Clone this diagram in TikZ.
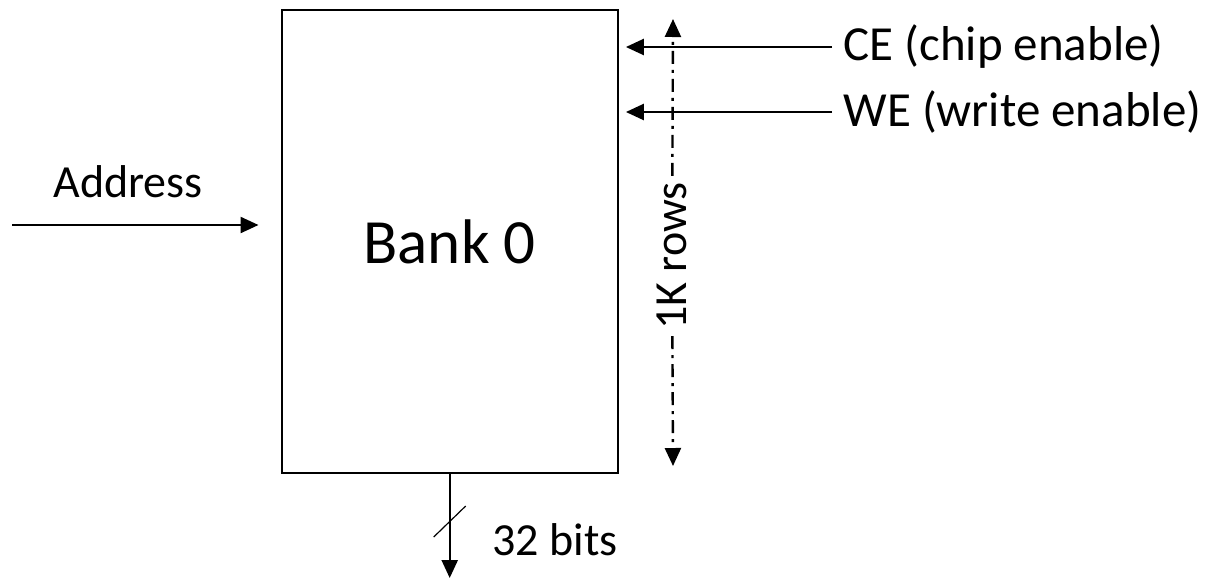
\documentclass[tikz,border=0pt]{standalone}
\usepackage{fontspec}
\setmainfont{Carlito}
\usepackage{tikz}
\usetikzlibrary{positioning, arrows.meta}

\tikzset{
  sig/.style={line width=1.2pt, -{Triangle[length=9pt, width=8pt]}},
  span/.style={line width=1.2pt, dash pattern=on 6.5pt off 3pt on 1.5pt off 3pt,
               -{Triangle[length=9pt, width=8pt]}},
  lbl/.style={inner sep=0pt, font=\fontsize{23}{27}\selectfont}
}

\begin{document}
\begin{tikzpicture}[x=0.5pt, y=-0.5pt]
    \useasboundingbox (0,0) rectangle (1208,579);

    % memory bank
    \node[draw, line width=1.2pt, minimum width=168pt, minimum height=231.5pt,
          font=\fontsize{31.5}{36}\selectfont] (bank) at (449.7,241.5) {Bank 0};

    % address input
    \node[lbl] (addr) at (128,182) {Address};
    \coordinate (addrin) at (12,225);
    \draw[sig, shorten >=11pt] (addrin) -- (addrin -| bank.west);

    % control signals
    \node[lbl, anchor=west, font=\fontsize{24.5}{29}\selectfont] (ce) at (843,47) {CE (chip enable)};
    \node[lbl, anchor=west, font=\fontsize{24.5}{29}\selectfont] (we) at (843,112) {WE (write enable)};
    \draw[sig, shorten <=5.5pt, shorten >=3.5pt] (ce.west) -- (ce.west -| bank.east);
    \draw[sig, shorten <=5.5pt, shorten >=3.5pt] (we.west) -- (we.west -| bank.east);

    % row count
    \node[lbl, rotate=90, inner sep=3pt] (rows) at (672,256) {1K rows};
    \coordinate (rowstop) at (673,19);
    \coordinate (rowsbot) at (673,466);
    \draw[span] (rows) -- (rowstop);
    \draw[span] (rows) -- (rowsbot);

    % data output
    \coordinate (dout) at (449.7,578);
    \draw[sig] (bank.south) -- (dout);
    \coordinate (slash) at (449.7,521.5);
    \draw[line width=0.6pt] (slash) ++(-16,15.5) -- ++(32,-31);
    \node[lbl, anchor=west] (bits) at (492,540) {32 bits};
\end{tikzpicture}
\end{document}
